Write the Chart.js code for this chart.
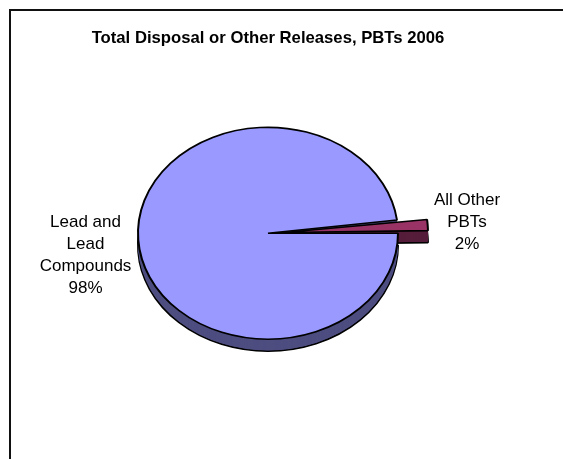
<!DOCTYPE html>
<html>
<head>
<meta charset="utf-8">
<script src="https://cdn.jsdelivr.net/npm/chart.js@4.4.0/dist/chart.umd.min.js"></script>
<style>
    html, body { margin: 0; padding: 0; background: #fff; }
    #wrap { width: 563px; height: 459px; }
</style>
</head>
<body>
<div id="wrap"><canvas id="pbtChart" width="563" height="459"></canvas></div>
<script>
// Data
const categories = ['Lead and Lead Compounds', 'All Other PBTs'];
const labelLines = [['Lead and', 'Lead', 'Compounds'], ['All Other', 'PBTs']];
const shares = [98, 2];
const topColors = ['#9999FF', '#993366'];
const sideColors = ['#4D4D80', '#561D3B'];
const explode = [0, 64];

const TILT = 0.815;   // vertical squash for the 3D look
const DEPTH = 12;     // pie thickness in px

// Frame line at the top and left, like the cropped Excel chart
const framePlugin = {
    id: 'frame',
    beforeDraw(chart) {
        const ctx = chart.ctx;
        ctx.save();
        ctx.fillStyle = '#fff';
        ctx.fillRect(0, 0, chart.width, chart.height);
        ctx.strokeStyle = '#111';
        ctx.lineWidth = 2;
        ctx.beginPath();
        ctx.moveTo(10, chart.height);
        ctx.lineTo(10, 10);
        ctx.lineTo(chart.width, 10);
        ctx.stroke();
        ctx.restore();
    }
};

// Squash the pie and draw its side before the top faces
const tiltPlugin = {
    id: 'tilt',
    beforeDatasetsDraw(chart) {
        const ctx = chart.ctx;
        const arcs = chart.getDatasetMeta(0).data;
        if (!arcs.length) return;
        const cx = arcs[0].x, cy = arcs[0].y;
        ctx.save();
        ctx.translate(cx, cy);
        ctx.scale(1, TILT);
        ctx.translate(-cx, -cy);

        for (let d = DEPTH; d >= 1; d--) {
            ctx.save();
            ctx.translate(0, d / TILT);
            arcs.forEach((arc, i) => {
                const saved = arc.options;
                arc.options = Object.assign({}, saved, {
                    backgroundColor: sideColors[i],
                    borderColor: '#000',
                    borderWidth: d === DEPTH ? 2 : 0
                });
                arc.draw(ctx);
                arc.options = saved;
            });
            ctx.restore();
        }
    },
    afterDatasetsDraw(chart) {
        chart.ctx.restore();
    }
};

// Category labels with percentages beside the pie
const labelPlugin = {
    id: 'sliceLabels',
    afterDraw(chart) {
        const ctx = chart.ctx;
        const arcs = chart.getDatasetMeta(0).data;
        const total = shares.reduce((a, b) => a + b, 0);
        ctx.save();
        ctx.font = '17px "Liberation Sans", Arial, sans-serif';
        ctx.fillStyle = '#000';
        ctx.textAlign = 'center';
        ctx.textBaseline = 'middle';
        const lineH = 22;
        arcs.forEach((arc, i) => {
            const lines = labelLines[i].concat([Math.round(shares[i] / total * 100) + '%']);
            let x, yMid;
            if (i === 0) {
                x = arc.x - arc.outerRadius - 52.5;
                yMid = arc.y + 22;
            } else {
                x = arc.x + arc.outerRadius + 69;
                yMid = arc.y - 11;
            }
            const y0 = yMid - (lines.length - 1) * lineH / 2;
            lines.forEach((t, k) => ctx.fillText(t, x, y0 + k * lineH));
        });
        ctx.restore();
    }
};

new Chart(document.getElementById('pbtChart'), {
    type: 'pie',
    data: {
        labels: categories,
        datasets: [{
            data: shares,
            backgroundColor: topColors,
            borderColor: '#000',
            borderWidth: 2,
            offset: explode,
            radius: 130
        }]
    },
    options: {
        responsive: false,
        animation: false,
        rotation: 90,
        layout: {
            padding: { left: 0, right: 27, top: 0, bottom: 51 }
        },
        plugins: {
            legend: { display: false },
            tooltip: { enabled: false },
            title: {
                display: true,
                text: 'Total Disposal or Other Releases, PBTs 2006',
                color: '#000',
                font: { family: '"Liberation Sans", Arial, sans-serif', size: 16.7, weight: 'bold' },
                padding: { top: 28.5, bottom: 10 }
            }
        }
    },
    plugins: [framePlugin, tiltPlugin, labelPlugin]
});
</script>
</body>
</html>
